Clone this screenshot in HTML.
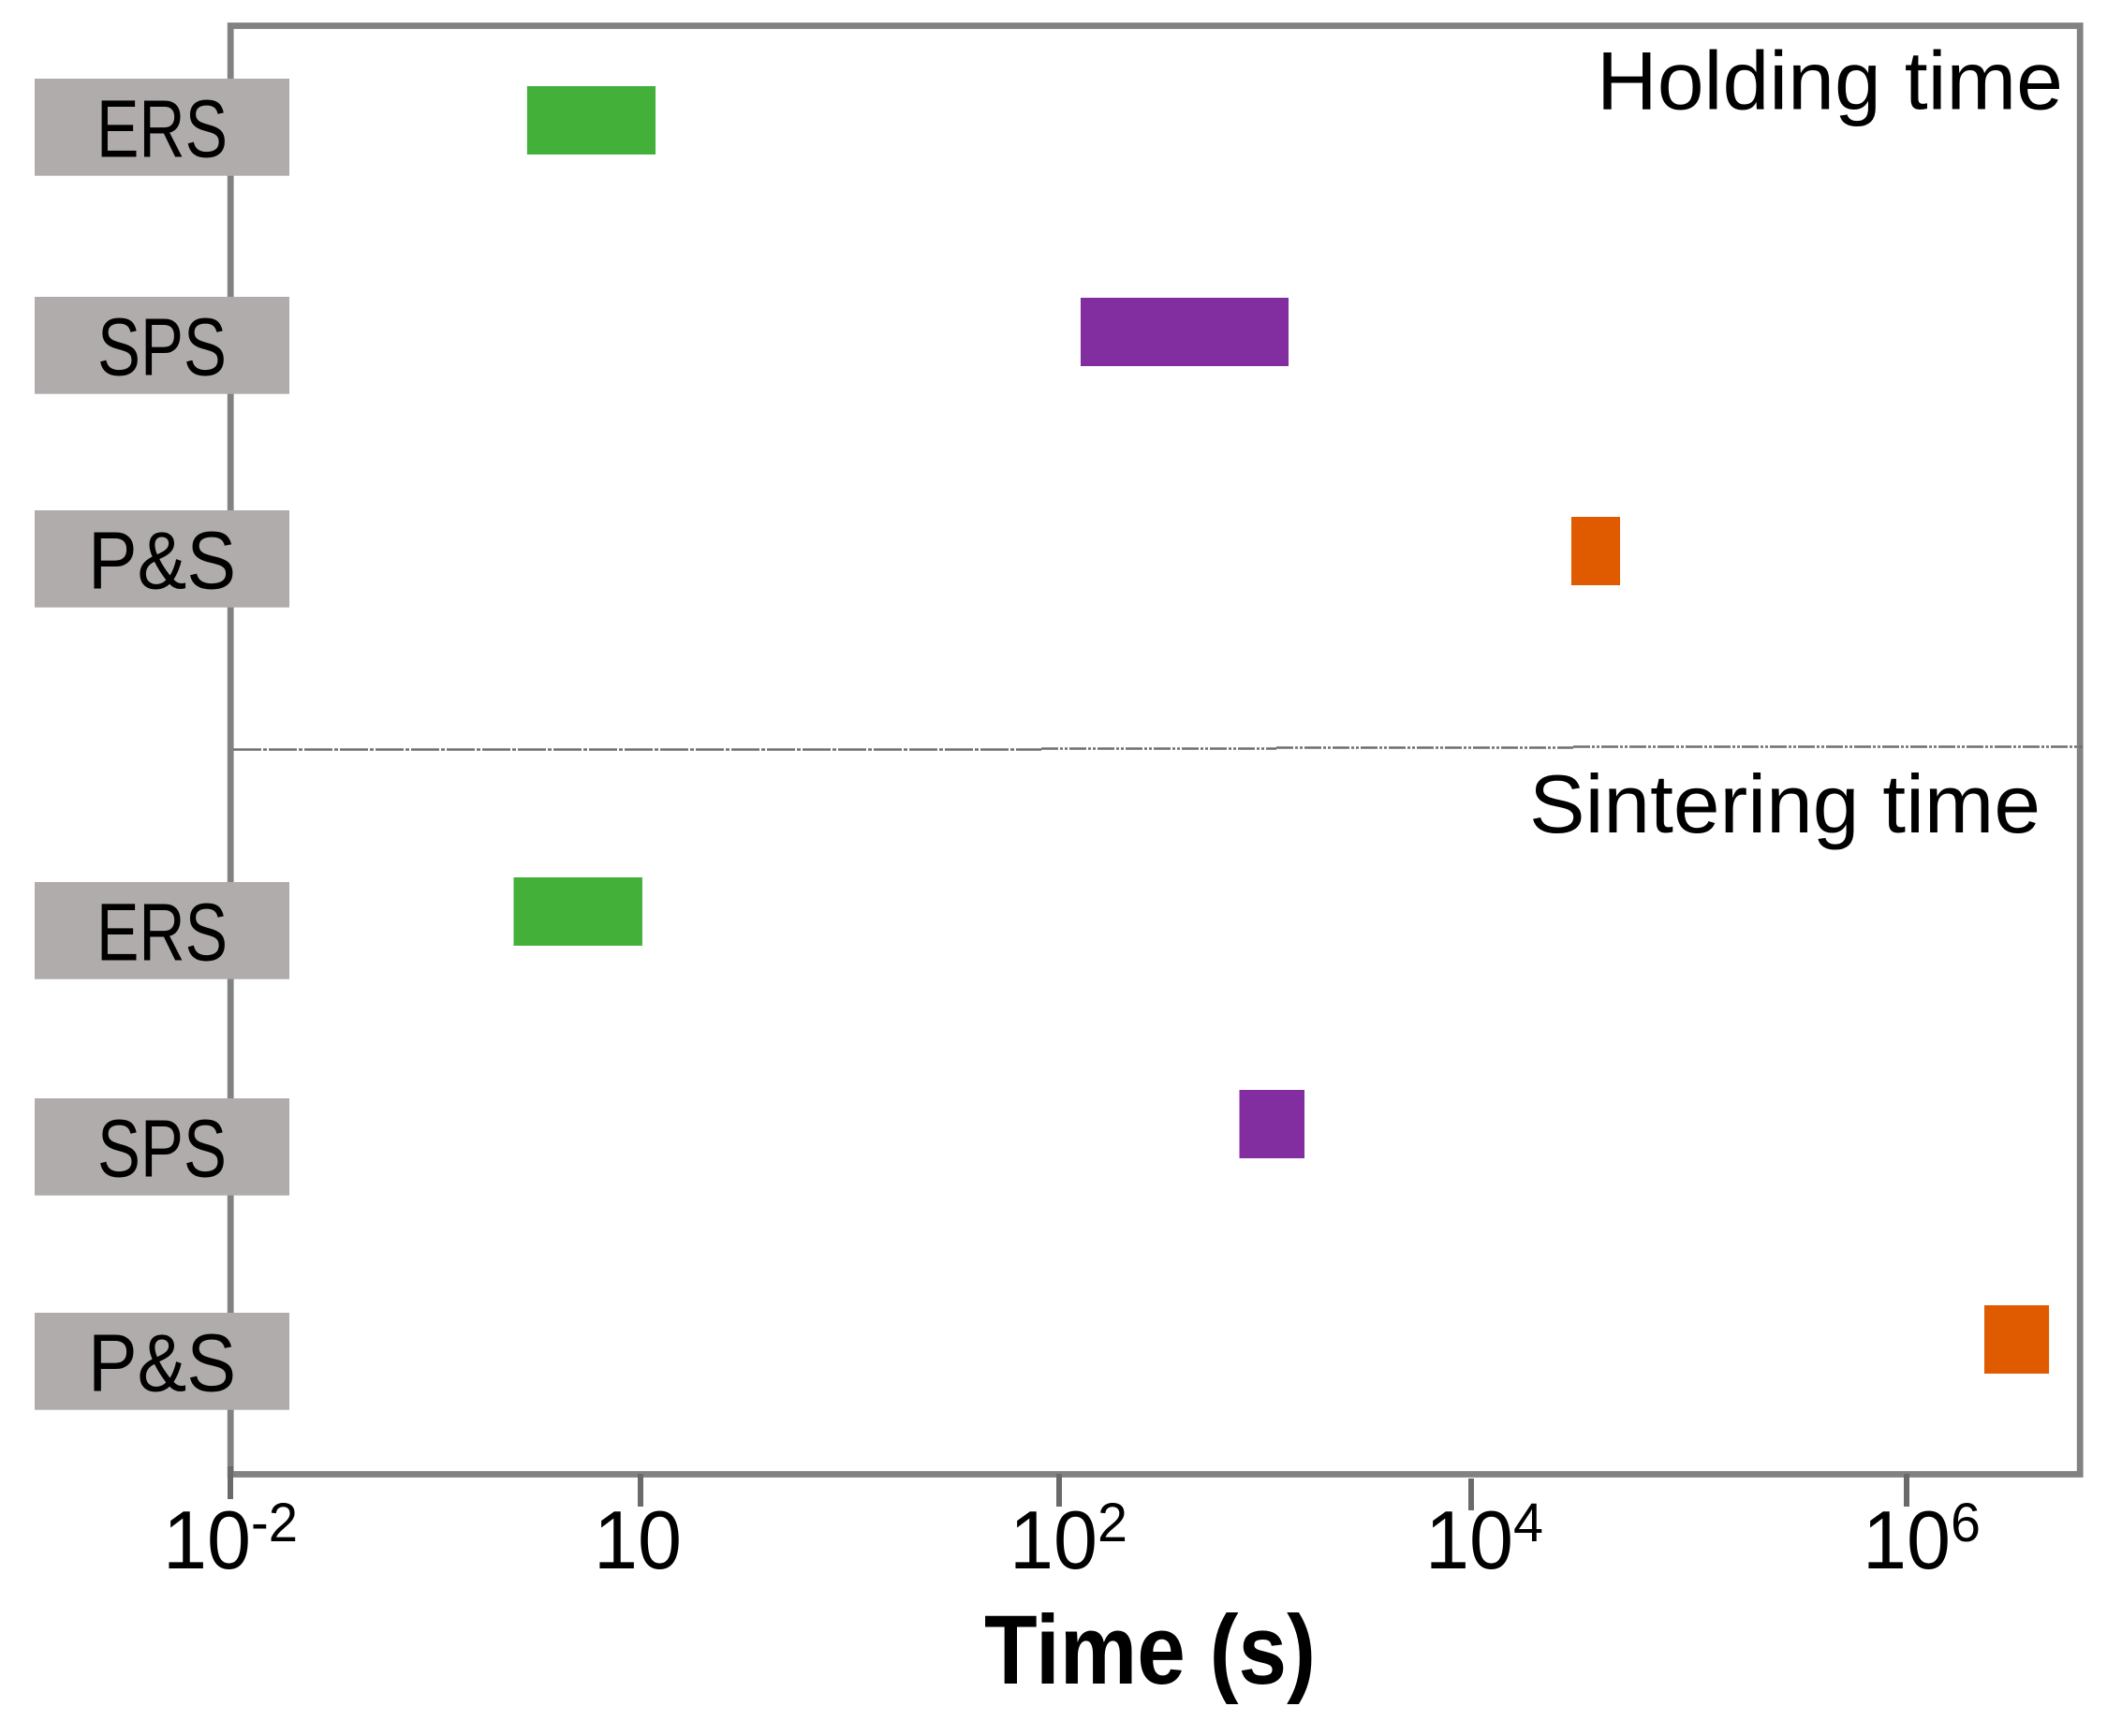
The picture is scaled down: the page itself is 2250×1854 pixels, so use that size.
<!DOCTYPE html>
<html lang="en">
<head>
<meta charset="utf-8">
<title>Holding and sintering time by process</title>
<style>
  html, body { margin: 0; padding: 0; background: #ffffff; }
  svg { display: block; }
  text { font-family: "Liberation Sans", sans-serif; fill: #000000; }
</style>
</head>
<body>
<svg id="chart" xmlns="http://www.w3.org/2000/svg" width="2250" height="1854" viewBox="0 0 2250 1854">
  <rect x="0" y="0" width="2250" height="1854" fill="#ffffff"/>
  <rect x="246.2" y="27.5" width="1975" height="1547" fill="none" stroke="#828282" stroke-width="6.8"/>
  <g fill="none" stroke="#6e6e6e" stroke-width="2.4">
    <path d="M249 800.5H1112" stroke-dasharray="30 2 4 2"/>
    <path d="M1112 799.5H1363" stroke-dasharray="18 2 3 2 3 2"/>
    <path d="M1363 798.5H1680" stroke-dasharray="18 2 3 2 3 2"/>
    <path d="M1680 797.5H2224" stroke-dasharray="18 2 3 2 3 2"/>
  </g>
  <g id="ticks"></g>
  <g id="labels"></g>
  <g id="bars"></g>
  <text x="1705" y="116.7" font-size="88" textLength="498" lengthAdjust="spacingAndGlyphs">Holding time</text>
  <text x="1633" y="889" font-size="88" textLength="546" lengthAdjust="spacingAndGlyphs">Sintering time</text>
  <text x="1051" y="1798" font-size="105" font-weight="bold" textLength="354" lengthAdjust="spacingAndGlyphs">Time (s)</text>
</svg>
<script>
// Chart data (times in seconds)
const categories = ['ERS', 'SPS', 'P&S'];
const seriesColors = ['#43B03A', '#822DA0', '#E05A00'];
const holdingMin = [1.48, 127.2, 28840];
const holdingMax = [10.86, 1299, 48300];
const sinteringMin = [1.18, 750, 2275000];
const sinteringMax = [10.1, 1552, 4510000];
const tickExponents = [-2, 1, 2, 4, 6];

const svgNS = 'http://www.w3.org/2000/svg';

// Piecewise log axis: the reference's ticks are evenly placed but not evenly spaced in decades.
function xScale(seconds) {
  const range = [246, 684, 1131, 1571, 2036];
  const log = Math.log10(seconds);
  let i = 0;
  while (i < tickExponents.length - 2 && log > tickExponents[i + 1]) i++;
  const t = (log - tickExponents[i]) / (tickExponents[i + 1] - tickExponents[i]);
  return range[i] + t * (range[i + 1] - range[i]);
}

// Ordinal row scales per panel
function barTop(panel, row) {
  const tops = [[92, 318, 552], [937, 1164, 1394]];
  return tops[panel][row];
}
function labelTop(panel, row) {
  const tops = [[84, 317, 545], [942, 1173, 1402]];
  return tops[panel][row];
}

function make(tag, attrs) {
  const el = document.createElementNS(svgNS, tag);
  Object.keys(attrs).forEach(function (k) { el.setAttribute(k, attrs[k]); });
  return el;
}

function drawBars() {
  const group = document.getElementById('bars');
  const panels = [
    { name: 'holding', min: holdingMin, max: holdingMax },
    { name: 'sintering', min: sinteringMin, max: sinteringMax }
  ];
  panels.forEach(function (panel, p) {
    categories.forEach(function (cat, r) {
      const x0 = xScale(panel.min[r]);
      const x1 = xScale(panel.max[r]);
      const bar = make('rect', { x: x0, y: barTop(p, r), width: x1 - x0, height: 73, fill: seriesColors[r] });
      
      
      group.appendChild(bar);
    });
  });
}

function drawLabels() {
  const group = document.getElementById('labels');
  const widths = [140, 138, 158];
  [0, 1].forEach(function (p) {
    categories.forEach(function (cat, r) {
      const top = labelTop(p, r);
      const box = make('rect', { x: 37, y: top, width: 272, height: 103.7, fill: '#B0ACAB' });
      
      
      group.appendChild(box);
      const w = widths[r];
      const text = make('text', { x: 173 - w / 2, y: top + 83.5, 'font-size': 87, textLength: w, lengthAdjust: 'spacingAndGlyphs' });
      text.textContent = cat;
      
      
      group.appendChild(text);
    });
  });
}

function drawTicks() {
  const group = document.getElementById('ticks');
  const labelOffset = [-72, -50, -53, -49, -47];
  const tickTop = [1566, 1574, 1574, 1579, 1574];
  const tickBottom = [1601, 1609, 1609, 1613, 1609];
  tickExponents.forEach(function (exp, i) {
    const x = xScale(Math.pow(10, exp));
    const tick = make('rect', { x: x - 3, y: tickTop[i], width: 6, height: tickBottom[i] - tickTop[i], fill: '#6a6a6a' });
    
    
    group.appendChild(tick);
    const baseX = x + labelOffset[i];
    const base = make('text', { x: baseX, y: 1675, 'font-size': 88, textLength: 94, lengthAdjust: 'spacingAndGlyphs' });
    base.textContent = '10';
    
    
    group.appendChild(base);
    if (exp !== 1) {
      const label = String(exp);
      const sup = make('text', { x: baseX + 94, y: 1646, 'font-size': 58, textLength: label.length > 1 ? 50 : 32, lengthAdjust: 'spacingAndGlyphs' });
      sup.textContent = label;
      
      
      group.appendChild(sup);
    }
  });
}

drawTicks();
drawLabels();
drawBars();
</script>
</body>
</html>
